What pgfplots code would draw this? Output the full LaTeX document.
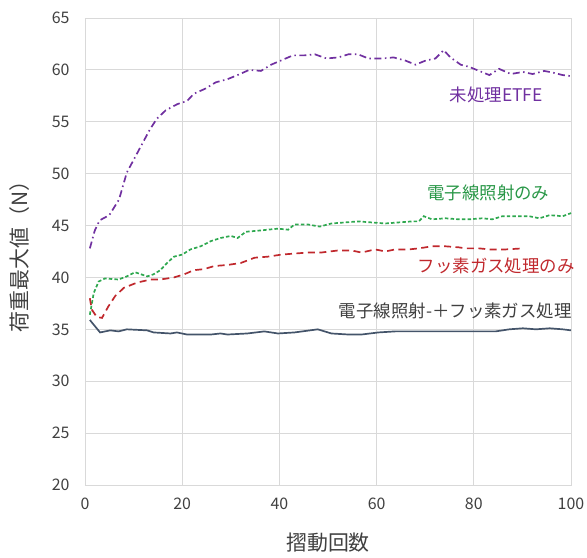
\documentclass[border=0pt]{standalone}
\usepackage{fontspec}
\setmainfont{Noto Sans CJK JP}
\usepackage{pgfplots}
\pgfplotsset{compat=1.18}
\definecolor{cpur}{HTML}{7030A0}
\definecolor{cgrn}{HTML}{2EA84F}
\definecolor{cred}{HTML}{C0282D}
\definecolor{cgry}{HTML}{44546A}
\definecolor{cgrid}{HTML}{D9D9D9}
\definecolor{ctxt}{HTML}{404040}
\begin{document}
\begin{tikzpicture}
\begin{axis}[
  scale only axis, width=486bp, height=467bp,
  xmin=0, xmax=100, ymin=20, ymax=65,
  xtick={0,20,...,100}, ytick={20,25,...,65},
  grid=major, major grid style={cgrid, line width=0.8pt},
  axis line style={cgrid, line width=0.8pt},
  tick style={draw=none},
  tick label style={font=\fontsize{16}{18}\selectfont, text=ctxt},
  /pgf/number format/assume math mode=true,
  xticklabel style={yshift=-9bp},
  yticklabel style={xshift=-12bp},
  xlabel={摺動回数}, ylabel={荷重最大値（N）},
  label style={font=\fontsize{21}{24}\selectfont, text=ctxt},
  xlabel style={at={(axis description cs:0.5,-0.124)}, anchor=center},
  ylabel style={at={(axis description cs:-0.134,0.5)}, anchor=center},
  clip=false,
]
\coordinate (bl) at (rel axis cs:0,0);
\coordinate (tr) at (rel axis cs:1,1);
\addplot[cpur, line width=1.7pt, dash pattern=on 7pt off 3.5pt on 1.5pt off 3.5pt] coordinates {
(1,42.8)(2,44.5)(3,45.5)(5,46)(7,47.5)(8.6,50.1)(11,52.2)(13.4,54.3)(14.8,55.3)(16.6,56.1)(19,56.7)(21,57.0)(22.4,57.7)(24.8,58.2)(26.9,58.8)(29.3,59.1)(31.4,59.5)(33.8,60.0)(36.2,59.9)(38.3,60.5)(40.3,60.9)(42.8,61.4)(45.2,61.4)(47.3,61.5)(49.7,61.1)(52.1,61.2)(54.2,61.5)(56.2,61.5)(58.3,61.1)(61.1,61.1)(63.5,61.2)(65.9,60.9)(68,60.5)(70.1,60.9)(72.1,61.1)(73.8,61.9)(75.2,61.2)(77.3,60.5)(79,60.3)(81.1,59.9)(83.2,59.5)(85.2,60.1)(87.6,59.6)(90.1,59.8)(92.1,59.6)(94.5,59.9)(96.6,59.7)(98.3,59.5)(100,59.4)
};
\addplot[cgrn, line width=1.7pt, dash pattern=on 3.5pt off 2.2pt] coordinates {
(1,36.4)(1.8,38.5)(2.8,39.6)(4.1,39.9)(6.9,39.8)(8.6,40.1)(10.3,40.5)(12.8,40.1)(14.1,40.3)(15.5,40.7)(16.9,41.4)(18.3,42.0)(20,42.2)(21.7,42.7)(23.8,43.0)(25.9,43.5)(27.9,43.8)(30,44.0)(31.4,43.8)(33.1,44.4)(35.5,44.5)(37.6,44.6)(39.7,44.7)(41.8,44.6)(43.1,45.1)(45.9,45.1)(48.3,44.9)(50.7,45.2)(53.5,45.3)(56.2,45.4)(59,45.3)(61.8,45.2)(64.5,45.3)(67.3,45.4)(68.7,45.4)(69.7,45.9)(71.4,45.6)(74.2,45.7)(76.9,45.6)(79,45.6)(81.8,45.7)(83.8,45.6)(85.9,45.9)(88.7,45.9)(91.4,45.9)(93.5,45.7)(95.6,46)(98.3,45.9)(100,46.2)
};
\addplot[cred, line width=1.7pt, dash pattern=on 7pt off 4.5pt] coordinates {
(1,38.0)(1.4,36.9)(2.4,36.2)(3.5,36.1)(4.8,37.2)(6.2,38.2)(8,39.0)(10.7,39.5)(13.5,39.8)(15.5,39.8)(18.3,40.0)(20.4,40.3)(22.4,40.7)(24.5,40.8)(26.6,41.1)(29.3,41.2)(32.1,41.4)(34.9,41.9)(37.6,42.0)(40.4,42.2)(43.1,42.3)(45.9,42.4)(48.6,42.4)(52.1,42.6)(54.8,42.6)(56.9,42.4)(59.7,42.7)(61.8,42.5)(63.8,42.7)(66.6,42.7)(68.7,42.8)(71.4,43.0)(74.2,43.0)(76.9,42.9)(78.3,42.8)(81.1,42.8)(83.2,42.7)(86.6,42.7)(90.1,42.8)
};
\addplot[cgry, line width=1.7pt] coordinates {
(1,35.9)(3.1,34.7)(5.2,34.9)(6.9,34.8)(8.6,35.0)(12.8,34.9)(14.1,34.7)(17.6,34.6)(18.9,34.7)(21,34.5)(25.9,34.5)(27.9,34.6)(29.3,34.5)(33.4,34.6)(36.9,34.8)(39.7,34.6)(43.1,34.7)(47.9,35.0)(50.7,34.6)(54.2,34.5)(56.9,34.5)(60.4,34.7)(63.8,34.8)(67.3,34.8)(70.8,34.8)(74.2,34.8)(77.6,34.8)(81.1,34.8)(84.5,34.8)(87.3,35.0)(90.1,35.1)(92.8,35.0)(95.6,35.1)(98.3,35.0)(100,34.9)
};
\node[text=cpur, font=\fontsize{17.5}{19}\selectfont] at (axis cs:84.6,57.6) {未処理ETFE};
\node[text=cgrn!90!black, font=\fontsize{17.5}{19}\selectfont] at (axis cs:83,48.1) {電子線照射のみ};
\node[text=cred, font=\fontsize{17.5}{19}\selectfont] at (axis cs:84.6,41.1) {フッ素ガス処理のみ};
\node[text=ctxt, font=\fontsize{17.5}{19}\selectfont] at (axis cs:76.2,36.8) {電子線照射-＋フッ素ガス処理};
\end{axis}
\pgfresetboundingbox
\path ([xshift=-85bp,yshift=-73bp]bl) rectangle ([xshift=16bp,yshift=18bp]tr);
\end{tikzpicture}
\end{document}
